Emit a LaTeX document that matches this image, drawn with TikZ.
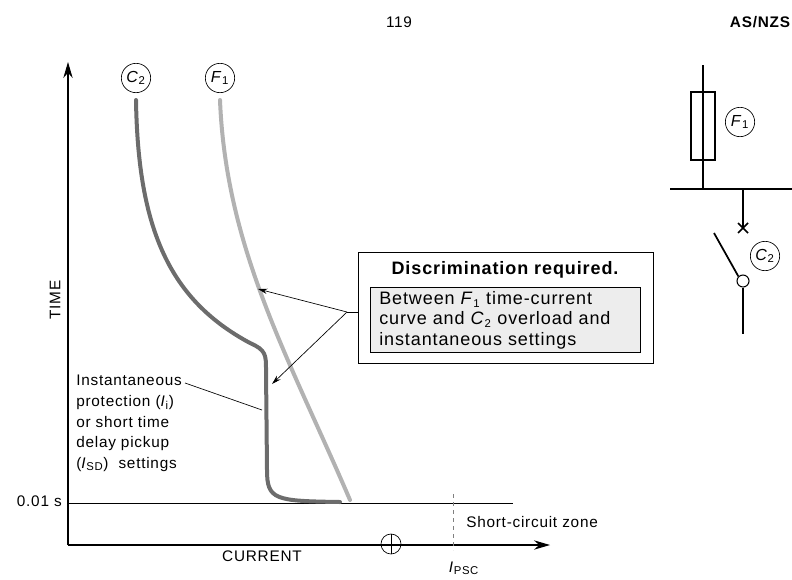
\documentclass[tikz,border=0pt]{standalone}
\usepackage{fontspec}
\setmainfont{Liberation Sans}[LetterSpace=5]
\usetikzlibrary{arrows.meta}
\newcommand{\subx}[1]{\textsubscript{\fontsize{8.5}{9}\selectfont #1}}
\begin{document}
\begin{tikzpicture}[x=0.75pt,y=-0.75pt,
  txt/.style={font=\fontsize{11.5}{14}\selectfont,inner sep=0pt},
  lbl/.style={circle,draw,line width=0.5pt,minimum size=22pt,inner sep=0pt,font=\fontsize{12}{14}\selectfont},
  ax/.style={line width=0.8pt,-{Stealth[length=12pt,width=7pt]}},
  ptr/.style={line width=0.5pt,-{Stealth[length=7pt,width=4pt]}},
  wire/.style={line width=1.3pt}]
\useasboundingbox (0,0) rectangle (792,579);
\node[txt] (pg) at (399,22) {119};
\node[txt,font=\fontsize{11.5}{14}\selectfont\bfseries] (hd) at (760,22) {AS/NZS};
% axes
\coordinate (o) at (68,545);
\coordinate (ytop) at (68,62);
\coordinate (xend) at (550,545);
\draw[ax] (o) -- (ytop);
\draw[ax] (o) -- (xend);
\node[txt,rotate=90] (time) at (55,300) {TIME};
\node[txt] (cur) at (262,556) {CURRENT};
\coordinate (l1) at (68,503); \coordinate (l2) at (513,503);
\draw[line width=0.5pt] (l1) -- (l2);
\node[txt,anchor=east] (t01) at (62,501) {0.01 s};
\coordinate (d1) at (453,494); \coordinate (d2) at (453,550);
\draw[dashed,line width=0.6pt,gray] (d1) -- (d2);
\node[txt,anchor=west] (scz) at (466,522) {Short-circuit zone};
\node[txt] (ipsc) at (464,568) {\textit{I}\subx{PSC}};
\node[circle,draw,line width=0.5pt,minimum size=15pt,inner sep=0pt] (cp) at (391,544) {};
\draw[line width=0.5pt] (cp.north) -- (cp.south) (cp.west) -- (cp.east);
% curves
\draw[line width=3pt,gray!85!black,line cap=round] (136,100) .. controls (138,230) and (170,300) .. (250,343)
  .. controls (266,350) and (266,355) .. (266,370) -- (267,470) .. controls (267,500) and (275,501) .. (340,502);
\draw[line width=3pt,black!30,line cap=round] (220,100) .. controls (226,250) and (290,360) .. (350,500);
\node[lbl] (c2) at (136,78) {\textit{C}\subx{2}};
\node[lbl] (f1) at (220,78) {\textit{F}\subx{1}};
% label left
\node[txt,anchor=north west,align=left,font=\fontsize{11.5}{15.5}\selectfont] (inst) at (76,375)
 {Instantaneous\\protection (\textit{I}\subx{i})\\or short time\\delay pickup\\(\textit{I}\subx{SD})\ \ settings};
\coordinate (lA) at (185,383); \coordinate (lB) at (205,390); \coordinate (lC) at (262,410);
\draw[line width=0.5pt] (lA) -- (lB) -- (lC);
% box
\node[draw,line width=0.6pt,inner sep=0pt,anchor=north west,minimum width=221pt,minimum height=83pt] (box) at (358,252) {};
\node[txt,font=\fontsize{13.5}{16}\selectfont\bfseries] (bt) at (505,270) {Discrimination required.};
\node[draw,line width=0.5pt,fill=black!7,anchor=north west,minimum width=202.5pt,minimum height=49pt,inner sep=0pt] (ib) at (370,287) {};
\node[txt,anchor=north west,align=left,font=\fontsize{13.5}{15.5}\selectfont] (bx) at (379,291)
 {Between \textit{F}\subx{1} time-current\\curve and \textit{C}\subx{2} overload and\\instantaneous settings};
\coordinate (bl) at (358,312); \coordinate (bp) at (347,312);
\coordinate (a1) at (258,289); \coordinate (a2) at (272,384);
\draw[line width=0.5pt] (bl) -- (bp);
\draw[ptr] (bp) -- (a1);
\draw[ptr] (bp) -- (a2);
% schematic
\coordinate (s1) at (703,65); \coordinate (s2) at (703,189);
\draw[wire] (s1) -- (s2);
\node[draw,line width=0.8pt,minimum width=18pt,minimum height=51pt,inner sep=0pt] (fuse) at (703,126) {};
\node[lbl] (f1b) at (740,122) {\textit{F}\subx{1}};
\coordinate (b1) at (670,189); \coordinate (b2) at (792,189);
\draw[wire] (b1) -- (b2);
\coordinate (br1) at (743,189); \coordinate (br2) at (743,228);
\draw[wire] (br1) -- (br2);
\draw[wire] (738,223) -- (748,233) (738,233) -- (748,223);
\node[circle,draw,line width=0.8pt,minimum size=9pt,inner sep=0pt] (sw) at (743,281) {};
\coordinate (bl1) at (714,233);
\draw[wire] (bl1) -- (sw.north west);
\coordinate (sw2) at (743,334);
\draw[wire] (sw.south) -- (sw2);
\node[lbl] (c2b) at (765,256) {\textit{C}\subx{2}};
\end{tikzpicture}
\end{document}
